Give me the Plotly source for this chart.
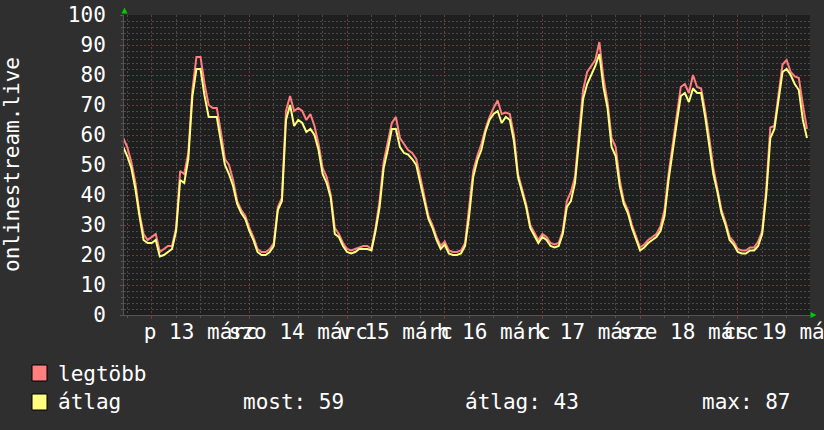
import plotly.graph_objects as go
import pandas as pd

# ---- data (hourly, starting 2020-03-12 17:00) ----
start_time = "2020-03-12 17:00"
legtobb = [
    59, 56, 51, 44, 34, 27, 25,
    26, 27, 21, 22, 23, 23, 29, 48, 47, 54, 75, 86, 86, 77, 70, 69, 69, 61, 52, 50, 45, 38, 35, 33,
    29, 26, 22, 21, 21, 22, 24, 36, 39, 68, 73, 68, 69, 68, 65, 67, 63, 57, 49, 46, 40, 29, 27, 24,
    22, 21.5, 22, 22.5, 23, 23, 22, 29, 38, 51, 58, 64, 66, 59, 57, 55, 54, 52, 46, 39, 33, 30, 26, 23,
    24.5, 21.5, 21, 21, 21.5, 24, 35, 48, 53, 57, 62, 66, 69, 71.5, 67, 67.5, 67, 60, 47, 42, 37, 30, 27.5, 25,
    27, 26, 24, 23.5, 24, 28, 38, 41, 46, 60, 75, 81, 83, 85, 91, 79, 71, 59, 56, 45, 38, 35, 30, 26,
    22.5, 23.5, 25, 26, 27, 29.5, 35, 47, 57, 67, 76, 77, 74, 80, 76, 75.5, 68, 59, 49, 42, 35, 31, 26, 24.5,
    22, 21.5, 21.5, 22.5, 22.5, 24.5, 28, 42, 62.5, 63, 73, 83.5, 85, 81, 79.5, 79, 70, 62,
]
atlag = [
    56, 53, 49, 42, 33, 25, 24,
    24, 25, 19.5, 20, 21, 22, 28, 45, 44, 52, 73, 82, 82, 73, 66, 66, 66, 58, 50, 47, 43, 37, 34, 32,
    28, 25, 21, 20, 20, 21, 23, 35, 38, 65, 70, 63, 65, 64, 61, 62, 60, 55, 47, 44, 39, 27, 26, 23,
    21, 20.5, 21, 22, 22, 22, 21.5, 28, 36, 49, 55, 62, 62, 56, 54, 53.5, 52, 50, 44, 38, 32, 29, 25, 22,
    23.5, 20.5, 20, 20, 20.5, 23, 33, 46, 51.5, 55, 61, 65, 67, 68, 64, 66, 65, 58, 46, 41, 36, 29, 26.5, 24,
    26, 25, 23, 22.5, 23, 27, 36, 38, 44, 58, 72, 77, 80, 83, 87, 76, 69, 56, 53, 43, 37, 34, 29, 25,
    21.5, 22.5, 24, 25, 26, 28, 33, 45, 55, 64, 73, 74, 71, 75.5, 74, 74, 66, 57, 47, 41, 34, 30, 25, 23.5,
    21, 20.5, 20.5, 21.5, 21.5, 23, 27, 40, 59, 62, 71, 81, 82, 80, 77, 75, 65, 59,
]
day_ticks = ["2020-03-13", "2020-03-14", "2020-03-15", "2020-03-16",
             "2020-03-17", "2020-03-18", "2020-03-19"]
day_labels = ["p 13 márc", "szo 14 márc", "v 15 márc", "h 16 márc",
              "k 17 márc", "sze 18 márc", "cs 19 márc"]
y_ticks = [0, 10, 20, 30, 40, 50, 60, 70, 80, 90, 100]
series_names = ["legtöbb", "átlag"]
stat_labels = ["most: 59", "átlag: 43", "max: 87"]

times = pd.date_range(start_time, periods=len(atlag), freq="h")

RED = "#ff7f7f"
YEL = "#ffff80"
FONT = "DejaVu Sans Mono"
W, H = 824, 430
L, R, T, B = 124, 14, 15, 115
PW, PH = W - L - R, H - T - B


def px(x):
    return (x - L) / PW


def py(y):
    return (H - B - y) / PH


fig = go.Figure()
fig.add_trace(go.Scatter(x=times, y=legtobb, mode="lines", name=series_names[0],
                         line=dict(color=RED, width=2), showlegend=False))
fig.add_trace(go.Scatter(x=times, y=atlag, mode="lines", name=series_names[1],
                         line=dict(color=YEL, width=2), showlegend=False))

grid_major = "#6e3a3a"
grid_minor = "#4a4a4a"

fig.update_layout(
    width=W, height=H,
    margin=dict(l=L, r=R, t=T, b=B, autoexpand=False),
    paper_bgcolor="#2f2f2f",
    plot_bgcolor="#1f1f1f",
    font=dict(family=FONT, size=21, color="#ffffff"),
    template="none",
    xaxis=dict(
        type="date",
        range=["2020-03-12 17:12", "2020-03-19 17:45"],
        tickvals=day_ticks, ticktext=day_labels,
        ticklabelshift=49, tickangle=0, ticklabelstandoff=-5,
        ticklabeloverflow="allow",
        ticks="outside", ticklen=3, tickcolor="#8a3030",
        showgrid=True, gridcolor=grid_major, griddash="2px,2px", gridwidth=1,
        minor=dict(dtick=6 * 3600 * 1000, tick0="2020-03-13", showgrid=True,
                   gridcolor=grid_minor, griddash="2px,2px", gridwidth=1,
                   ticks="outside", ticklen=2, tickcolor="#555555"),
        showline=True, linecolor="#555555", linewidth=1,
        zeroline=False, automargin=False, fixedrange=True,
        tickfont=dict(family=FONT, size=21, color="#ffffff"),
    ),
    yaxis=dict(
        range=[0, 100], tickvals=y_ticks,
        ticks="outside", ticklen=3, tickcolor="#555555",
        ticklabelstandoff=10,
        showgrid=True, gridcolor=grid_major, griddash="2px,2px", gridwidth=1,
        minor=dict(dtick=2, showgrid=True, gridcolor=grid_minor,
                   griddash="2px,2px", gridwidth=1,
                   ticks="outside", ticklen=2, tickcolor="#555555"),
        showline=True, linecolor="#555555", linewidth=1,
        zeroline=False, automargin=False, fixedrange=True,
        tickfont=dict(family=FONT, size=21, color="#ffffff"),
    ),
)

annotations = [
    dict(text="onlinestream.live", textangle=-90, xref="paper", yref="paper",
         x=px(12), y=py(165), xanchor="center", yanchor="middle", showarrow=False,
         font=dict(family=FONT, size=21, color="#ffffff")),
    dict(text=series_names[0], xref="paper", yref="paper", x=px(56), y=py(373.5),
         xanchor="left", yanchor="middle", showarrow=False),
    dict(text=series_names[1], xref="paper", yref="paper", x=px(56), y=py(401.5),
         xanchor="left", yanchor="middle", showarrow=False),
]
for label, xpos in zip(stat_labels, [241, 463, 700]):
    annotations.append(dict(text=label, xref="paper", yref="paper", x=px(xpos), y=py(401.5),
                            xanchor="left", yanchor="middle", showarrow=False))
fig.update_layout(annotations=annotations)

shapes = []
for color, top in [(RED, 365), (YEL, 394)]:
    shapes.append(dict(type="rect", xref="paper", yref="paper",
                       x0=px(32), x1=px(47), y0=py(top), y1=py(top + 16),
                       fillcolor=color, line=dict(color="#000000", width=1)))
# green arrow heads at axis ends
shapes.append(dict(type="path", xref="paper", yref="paper",
                   path=f"M {px(121.5)},{py(13.5)} L {px(127.5)},{py(13.5)} L {px(124.5)},{py(7.5)} Z",
                   fillcolor="#00cc00", line=dict(color="#00cc00", width=0)))
shapes.append(dict(type="path", xref="paper", yref="paper",
                   path=f"M {px(810.5)},{py(312)} L {px(810.5)},{py(318)} L {px(816.5)},{py(315)} Z",
                   fillcolor="#00cc00", line=dict(color="#00cc00", width=0)))
fig.update_layout(shapes=shapes)

fig.write_html("out.html", config={"displayModeBar": False},
               post_script="document.body.style.margin='0';document.body.style.overflow='hidden';")
